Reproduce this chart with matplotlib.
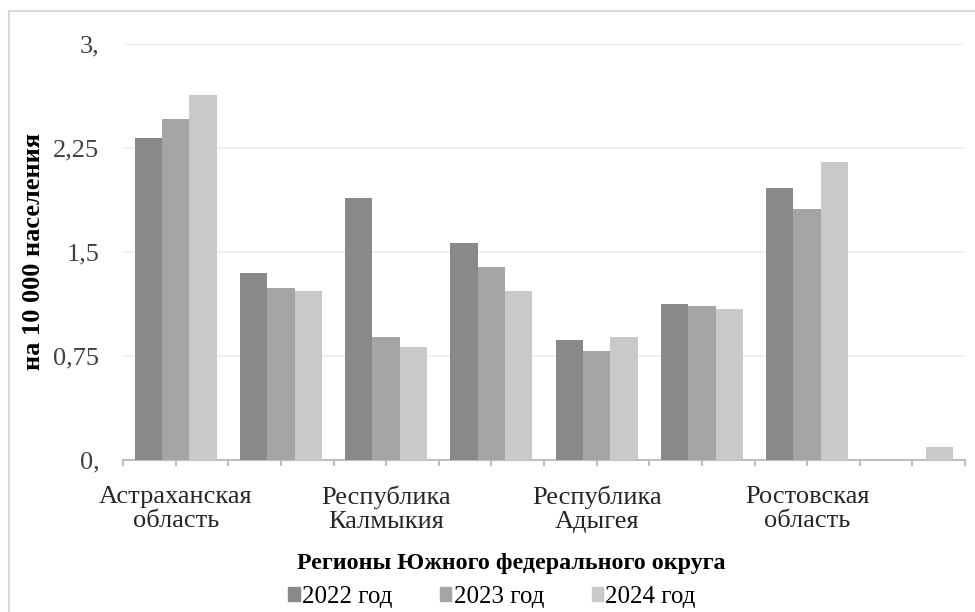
import matplotlib
matplotlib.use('Agg')
import matplotlib.pyplot as plt
import numpy as np
from matplotlib.patches import Patch, Rectangle

# data (per 10 000 population)
tick_labels = ['Астраханская\nобласть', '', 'Республика\nКалмыкия', '',
               'Республика\nАдыгея', '', 'Ростовская\nобласть', '']
years = ['2022 год', '2023 год', '2024 год']
v2022 = [2.32, 1.35, 1.89, 1.56, 0.86, 1.12, 1.96, 0.0]
v2023 = [2.46, 1.24, 0.885, 1.39, 0.785, 1.105, 1.81, 0.0]
v2024 = [2.635, 1.22, 0.815, 1.22, 0.885, 1.085, 2.145, 0.09]
colors = ['#898989', '#a5a5a5', '#c9c9c9']

plt.rcParams['font.family'] = ['Liberation Serif', 'DejaVu Serif']
fs = 19

fig = plt.figure(figsize=(9.75, 6.12), dpi=100)
ax = fig.add_axes([123/975, 152.5/612, 842/975, 415.5/612])

x = np.arange(len(tick_labels))
w = 0.26
for i, (vals, c, lab) in enumerate(zip([v2022, v2023, v2024], colors, years)):
    ax.bar(x + (i - 1) * w, vals, width=w, color=c, label=lab, zorder=3)

ax.set_xlim(-0.5, len(tick_labels) - 0.5)
ax.set_ylim(0, 3)
ax.set_yticks([0, 0.75, 1.5, 2.25, 3])
ax.set_yticklabels(['0,', '0,75', '1,5', '2,25', '3,'])
ax.grid(axis='y', color='#efefef', lw=1.5, zorder=0)

ax.set_xticks(np.arange(-0.5, len(tick_labels), 0.5))
ax.set_xticklabels([''] + [t for lab in tick_labels for t in (lab, '')],
                   linespacing=1.1)

for s in ['top', 'right', 'left']:
    ax.spines[s].set_visible(False)
ax.spines['bottom'].set_color('#bfbfbf')
ax.spines['bottom'].set_linewidth(1.5)
ax.tick_params(axis='x', color='#bfbfbf', width=1.5, length=4, labelsize=fs,
               pad=15, labelcolor='#262626')
ax.tick_params(axis='y', length=0, labelsize=fs, pad=17, labelcolor='#404040')

ax.set_ylabel('на 10 000 населения', fontsize=fs, fontweight='bold')
ax.yaxis.set_label_coords(-78/842, 0.5)

fig.text(511/975, 1 - 563/612, 'Регионы Южного федерального округа',
         fontsize=17.3, fontweight='bold', ha='center', va='center')

handles = [Patch(color=c) for c in colors]
fig.legend(handles, years, loc='center', bbox_to_anchor=(492/975, 1 - 597/612),
           ncol=3, frameon=False, fontsize=18, handlelength=0.45, handleheight=0.45,
           handletextpad=0.1, columnspacing=1.9, borderpad=0)

fig.patches.append(Rectangle((9/975, -0.02), 1.0, 1 - 10.5/612 + 0.02,
                             transform=fig.transFigure, fill=False,
                             edgecolor='#d9d9d9', lw=1.5))

fig.savefig('out.png', dpi=100)
